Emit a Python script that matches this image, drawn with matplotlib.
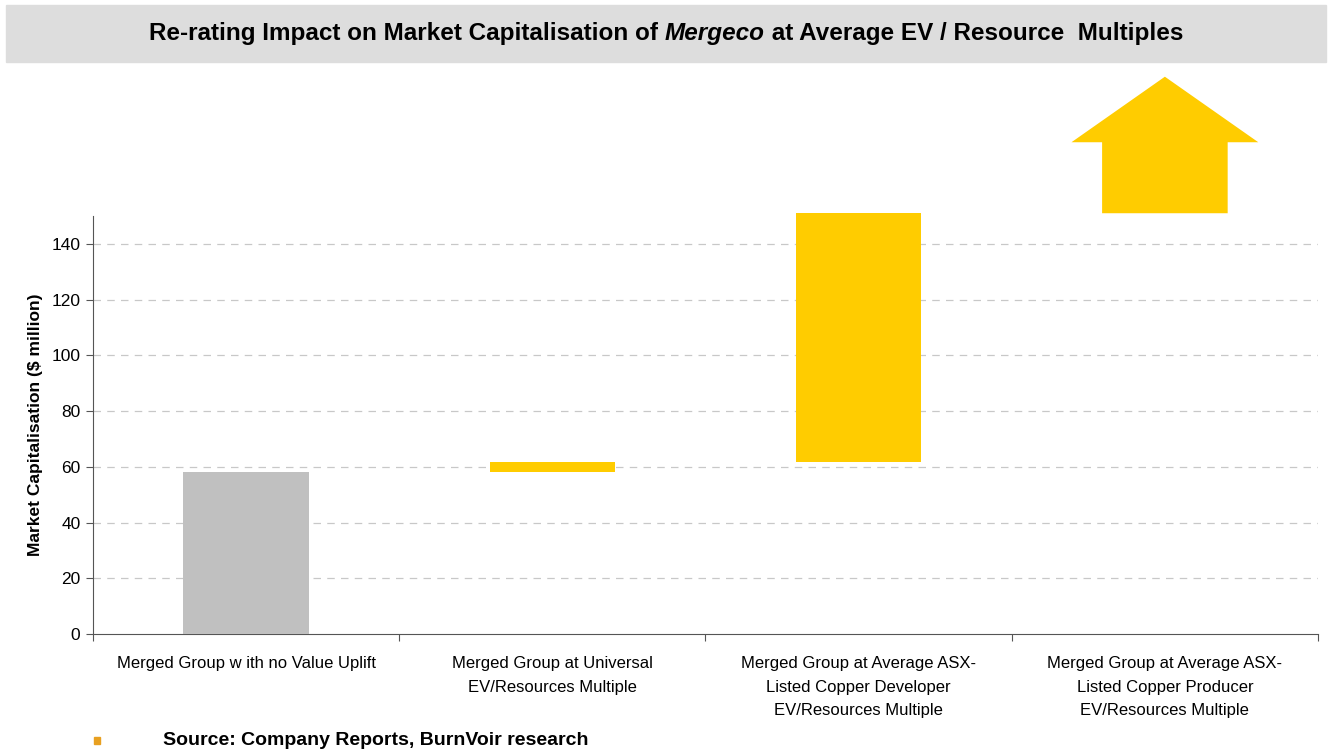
import matplotlib.pyplot as plt
from matplotlib.patches import Rectangle

plt.rcParams['font.family'] = ['Liberation Sans', 'DejaVu Sans']

categories = [
    "Merged Group w ith no Value Uplift",
    "Merged Group at Universal\nEV/Resources Multiple",
    "Merged Group at Average ASX-\nListed Copper Developer\nEV/Resources Multiple",
    "Merged Group at Average ASX-\nListed Copper Producer\nEV/Resources Multiple",
]
bar_bottoms = [0, 58.1, 61.8, 151]
bar_tops = [58.1, 61.8, 151, 200]
bar_colors = ['#C0C0C0', '#FFCC00', '#FFCC00', '#FFCC00']
y_ticks = [0, 20, 40, 60, 80, 100, 120, 140]

fig = plt.figure(figsize=(13.32, 7.54), dpi=100)
ax = fig.add_axes([0.0698, 0.1592, 0.9197, 0.5543])

width = 0.41
for i in range(3):
    ax.bar(i, bar_tops[i] - bar_bottoms[i], bottom=bar_bottoms[i], width=width,
           color=bar_colors[i], clip_on=False, zorder=3)

# last category drawn as an up arrow
i = 3
shaft_top = bar_bottoms[i] + (bar_tops[i] - bar_bottoms[i]) * 0.52
head_w = 0.61
xs = [i - width / 2, i - width / 2, i - head_w / 2, i, i + head_w / 2, i + width / 2, i + width / 2]
ys = [bar_bottoms[i], shaft_top, shaft_top, bar_tops[i], shaft_top, shaft_top, bar_bottoms[i]]
ax.fill(xs, ys, color=bar_colors[i], clip_on=False, zorder=3, lw=0)

ax.set_xlim(-0.5, 3.5)
ax.set_ylim(0, 150)
ax.set_yticks(y_ticks)
ax.tick_params(axis='y', labelsize=12.5, direction='out', length=5, color='#555555', pad=4)
for y in y_ticks[1:]:
    ax.axhline(y, color='#C8C8C8', lw=0.9, ls=(0, (6, 5)), zorder=1)

ax.set_xticks([-0.5, 0.5, 1.5, 2.5, 3.5])
ax.set_xticklabels([])
ax.tick_params(axis='x', direction='out', length=5, color='#555555')
ax.set_xticks(range(4), minor=True)
ax.set_xticklabels(categories, minor=True, fontsize=12, linespacing=1.7)
ax.tick_params(axis='x', which='minor', length=0, pad=16)

for s in ['top', 'right']:
    ax.spines[s].set_visible(False)
for s in ['left', 'bottom']:
    ax.spines[s].set_color('#555555')

ax.set_ylabel("Market Capitalisation ($ million)", fontsize=12.5, fontweight='bold', labelpad=6)

# title banner
fig.patches.append(Rectangle((0.0045, 0.918), 0.991, 0.075, transform=fig.transFigure,
                             color='#DDDDDD', zorder=0))
title_parts = [("Re-rating Impact on Market Capitalisation of ", 'normal'),
               ("Mergeco", 'italic'),
               (" at Average EV / Resource  Multiples", 'normal')]
renderer = fig.canvas.get_renderer()
texts = []
for txt, style in title_parts:
    texts.append(fig.text(0, 0.956, txt, fontsize=17.5, fontweight='bold', style=style,
                          va='center', ha='left'))
widths = [t.get_window_extent(renderer).width / fig.bbox.width for t in texts]
x = 0.5 - sum(widths) / 2
for t, w in zip(texts, widths):
    t.set_x(x)
    x += w

# source note
fig.patches.append(Rectangle((0.0705, 0.0135), 0.0045, 0.009, transform=fig.transFigure,
                             color='#E8A020', zorder=2))
fig.text(0.1225, 0.0185, "Source: Company Reports, BurnVoir research", fontsize=14,
         fontweight='bold', va='center', ha='left')

fig.savefig("out.png", dpi=100)
